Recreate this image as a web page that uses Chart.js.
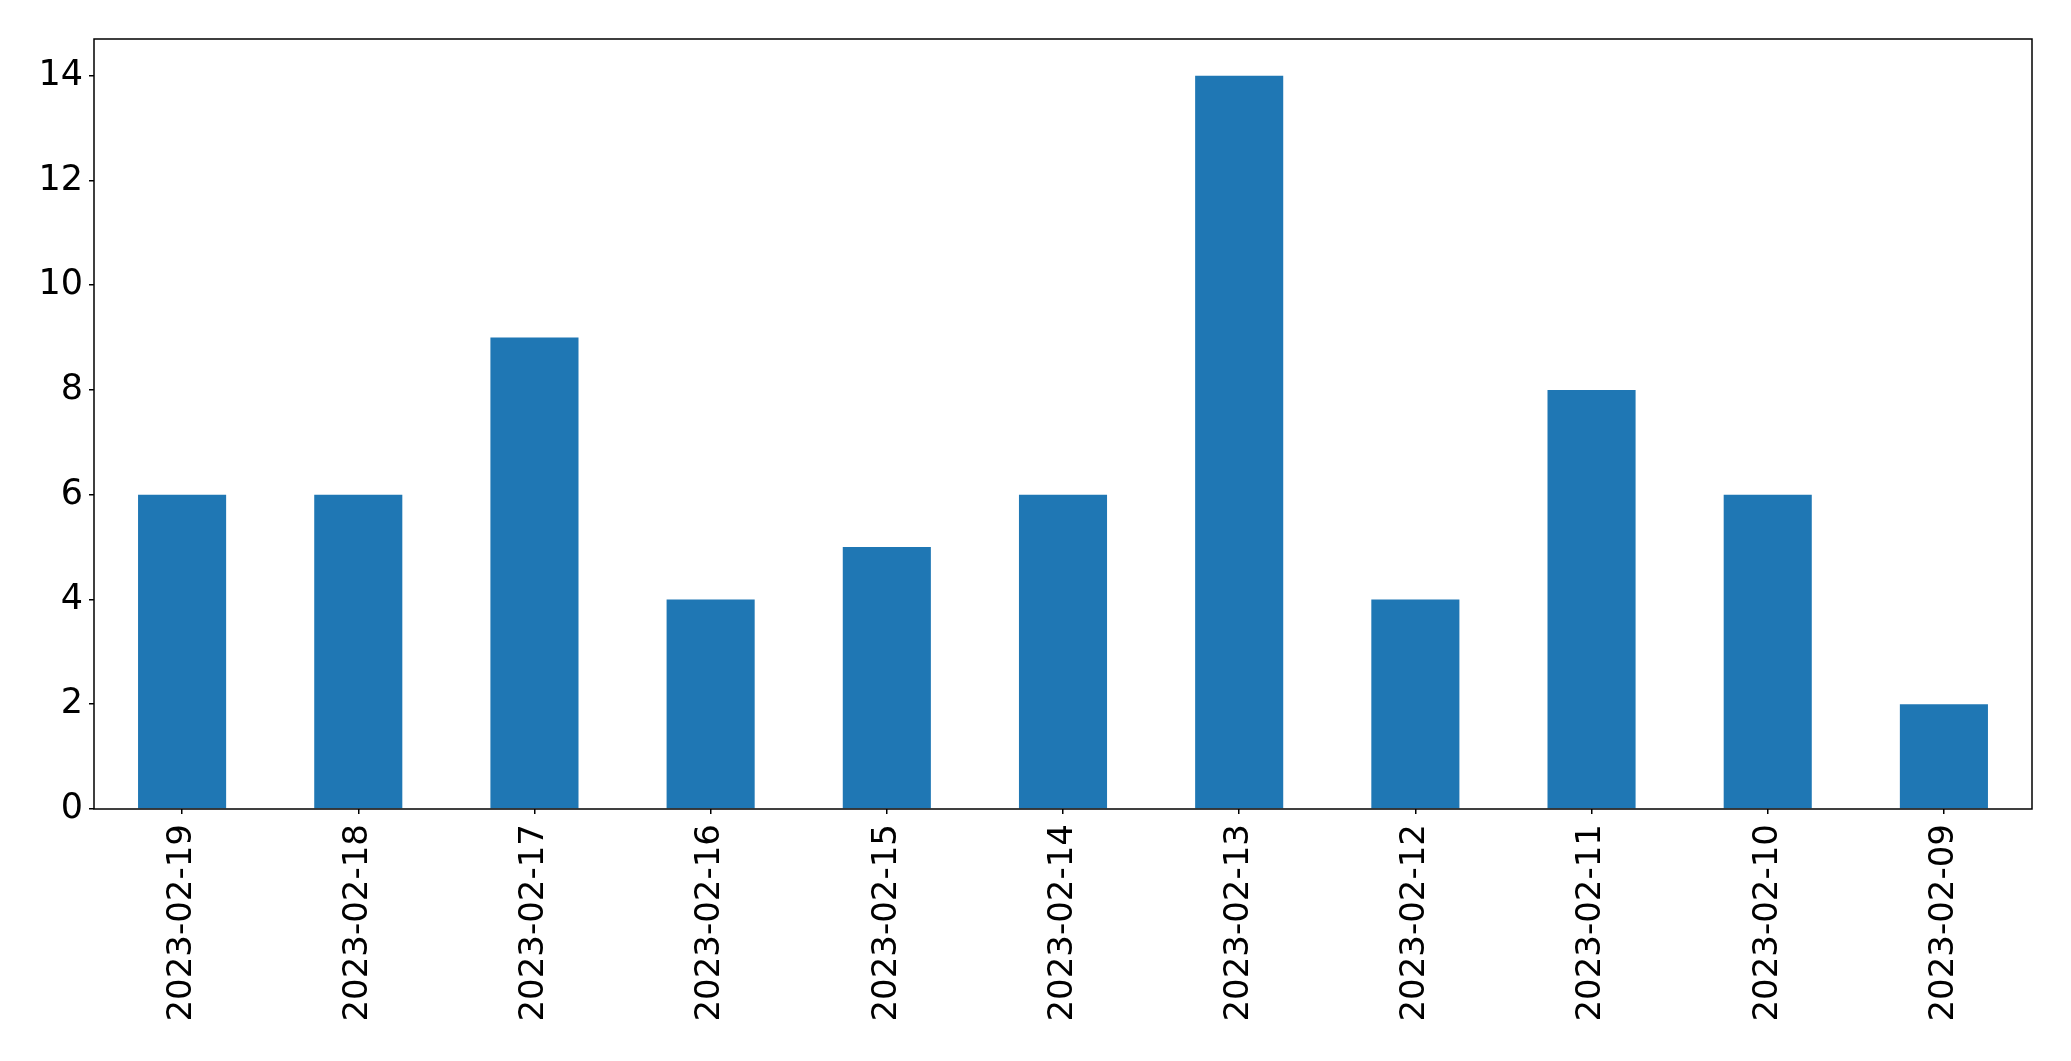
<!DOCTYPE html>
<html>
<head>
<meta charset="utf-8">
<script src="https://cdn.jsdelivr.net/npm/chart.js@4"></script>
<style>
html,body{margin:0;padding:0;background:#fff;}
#wrap{width:2071px;height:1061px;}
</style>
</head>
<body>
<div id="wrap"><canvas id="c" width="2071" height="1061"></canvas></div>
<script>
const categories = ["2023-02-19","2023-02-18","2023-02-17","2023-02-16","2023-02-15","2023-02-14","2023-02-13","2023-02-12","2023-02-11","2023-02-10","2023-02-09"];
const values = [6,6,9,4,5,6,14,4,8,6,2];
const yTicks = [0,2,4,6,8,10,12,14];
const yMax = 14.7;

const frame = {
  id: 'frame',
  afterDraw(chart) {
    const {ctx, chartArea: a} = chart;
    ctx.save();
    ctx.strokeStyle = '#000';
    ctx.lineWidth = 1.5;
    ctx.strokeRect(a.left, a.top, a.right - a.left, a.bottom - a.top);
    ctx.restore();
  }
};

new Chart(document.getElementById('c'), {
  type: 'bar',
  data: {
    labels: categories,
    datasets: [{
      data: values,
      backgroundColor: '#1f77b4',
      borderWidth: 0,
      barPercentage: 0.5,
      categoryPercentage: 1.0
    }]
  },
  options: {
    responsive: false,
    animation: false,
    devicePixelRatio: 1,
    layout: { padding: { top: 39, right: 39, left: 0, bottom: 0 } },
    plugins: { legend: { display: false }, tooltip: { enabled: false } },
    scales: {
      x: {
        grid: { offset: false, drawOnChartArea: false, drawTicks: true, tickLength: 5, color: '#000', lineWidth: 1.5 },
        border: { display: false },
        ticks: {
          minRotation: 90, maxRotation: 90, autoSkip: false,
          padding: 10,
          color: '#000',
          font: { family: 'DejaVu Sans', size: 34 }
        },
        afterFit(scale) { scale.height = 1061 - 809; }
      },
      y: {
        min: 0, max: yMax,
        grid: { drawOnChartArea: false, drawTicks: true, tickLength: 5, color: '#000', lineWidth: 1.5 },
        border: { display: false },
        afterBuildTicks(scale) { scale.ticks = yTicks.map(v => ({ value: v })); },
        ticks: {
          padding: 6,
          color: '#000',
          font: { family: 'DejaVu Sans', size: 35 }
        },
        afterFit(scale) { scale.width = 94; }
      }
    }
  },
  plugins: [frame]
});
</script>
</body>
</html>
